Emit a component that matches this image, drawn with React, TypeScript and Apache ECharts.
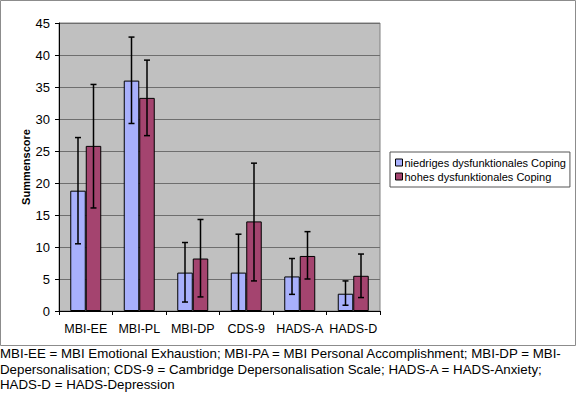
import React, { useEffect, useRef } from "react";
import * as echarts from "echarts";

const categories = ["MBI-EE", "MBI-PL", "MBI-DP", "CDS-9", "HADS-A", "HADS-D"];
const seriesNames = ["niedriges dysfunktionales Coping", "hohes dysfunktionales Coping"];
const lowMeans = [18.8, 36.0, 6.0, 6.0, 5.4, 2.7];
const lowErrLo = [10.5, 29.3, 1.4, 0.0, 2.6, 0.9];
const lowErrHi = [27.1, 42.8, 10.7, 12.0, 8.2, 4.7];
const highMeans = [25.8, 33.3, 8.2, 14.0, 8.6, 5.5];
const highErrLo = [16.1, 27.4, 2.2, 4.7, 5.0, 2.1];
const highErrHi = [35.4, 39.2, 14.3, 23.1, 12.4, 8.9];
const yTicks = { min: 0, max: 45, interval: 5 };
const footnote =
  "MBI-EE = MBI Emotional Exhaustion; MBI-PA = MBI Personal Accomplishment; MBI-DP = MBI-\nDepersonalisation; CDS-9 = Cambridge Depersonalisation Scale; HADS-A = HADS-Anxiety;\nHADS-D = HADS-Depression";

const BAR_W = 15.5;
const FONT = "Liberation Sans, Arial, sans-serif";

function errSeries(lo: number[], hi: number[], offset: number) {
  return {
    type: "custom",
    z: 10,
    silent: true,
    data: lo.map((v, i) => [i, v, hi[i]]),
    encode: { x: 0, y: [1, 2] },
    renderItem: (params: any, api: any) => {
      const idx = api.value(0);
      const pLo = api.coord([idx, api.value(1)]);
      const pHi = api.coord([idx, api.value(2)]);
      const cx = pLo[0] + offset;
      const cap = 3;
      const style = { stroke: "#000", lineWidth: 1.5 };
      return {
        type: "group",
        children: [
          { type: "line", shape: { x1: cx, y1: pLo[1], x2: cx, y2: pHi[1] }, style },
          { type: "line", shape: { x1: cx - cap, y1: pLo[1], x2: cx + cap, y2: pLo[1] }, style },
          { type: "line", shape: { x1: cx - cap, y1: pHi[1], x2: cx + cap, y2: pHi[1] }, style },
        ],
      };
    },
  };
}

export default function App() {
  const ref = useRef<HTMLDivElement>(null);
  useEffect(() => {
    document.body.style.margin = "0";
    const chart = echarts.init(ref.current!, null, { renderer: "svg" });
    chart.setOption({
      animation: false,
      backgroundColor: "#fff",
      textStyle: { fontFamily: FONT },
      grid: {
        left: 59,
        right: 196,
        top: 23,
        bottom: 82,
        show: true,
        backgroundColor: "#C0C0C0",
        borderColor: "#808080",
        borderWidth: 1,
      },
      legend: {
        orient: "vertical",
        left: 390,
        top: 152,
        itemWidth: 7,
        itemHeight: 7,
        itemGap: 3,
        padding: [5, 4, 5, 5],
        backgroundColor: "#fff",
        borderColor: "#555",
        borderWidth: 1,
        icon: "rect",
        textStyle: { fontSize: 11, color: "#000", fontFamily: FONT, padding: [0, 0, 0, -3] },
        itemStyle: { borderColor: "#000", borderWidth: 1 },
        data: seriesNames,
      },
      xAxis: {
        type: "category",
        data: categories,
        axisLine: { lineStyle: { color: "#000", width: 1 } },
        axisTick: { show: true, length: 4, lineStyle: { color: "#000" } },
        axisLabel: { color: "#000", fontSize: 12.5, margin: 11, interval: 0, fontFamily: FONT },
      },
      yAxis: {
        type: "value",
        min: yTicks.min,
        max: yTicks.max,
        interval: yTicks.interval,
        name: "Summenscore",
        nameLocation: "middle",
        nameGap: 28,
        nameMoveOverlap: false,
        nameTextStyle: { fontWeight: "bold", fontSize: 11, color: "#000", fontFamily: FONT },
        axisLine: { show: true, lineStyle: { color: "#000", width: 1 } },
        axisTick: { show: true, length: 4, lineStyle: { color: "#000" } },
        axisLabel: { color: "#000", fontSize: 13, margin: 9, fontFamily: FONT },
        splitLine: { show: true, lineStyle: { color: "#6E6E6E", width: 1 } },
      },
      series: [
        {
          name: seriesNames[0],
          type: "bar",
          data: lowMeans,
          barWidth: BAR_W,
          barGap: "0%",
          itemStyle: { color: "#A8B0FC", borderColor: "#000", borderWidth: 1 },
        },
        {
          name: seriesNames[1],
          type: "bar",
          data: highMeans,
          barWidth: BAR_W,
          barGap: "0%",
          itemStyle: { color: "#A4446F", borderColor: "#000", borderWidth: 1 },
        },
        errSeries(lowErrLo, lowErrHi, -BAR_W / 2),
        errSeries(highErrLo, highErrHi, BAR_W / 2),
      ],
      graphic: [
        {
          type: "rect",
          shape: { x: 0.5, y: 0.5, width: 575, height: 345 },
          style: { fill: "none", stroke: "#8C8C8C", lineWidth: 1 },
          silent: true,
        },
        {
          type: "text",
          left: 0,
          top: 346,
          style: {
            text: footnote,
            font: `13.3px ${FONT}`,
            fill: "#000",
            lineHeight: 15.5,
          },
        },
      ],
    });
    return () => chart.dispose();
  }, []);
  return <div ref={ref} style={{ width: 576, height: 393 }} />;
}
